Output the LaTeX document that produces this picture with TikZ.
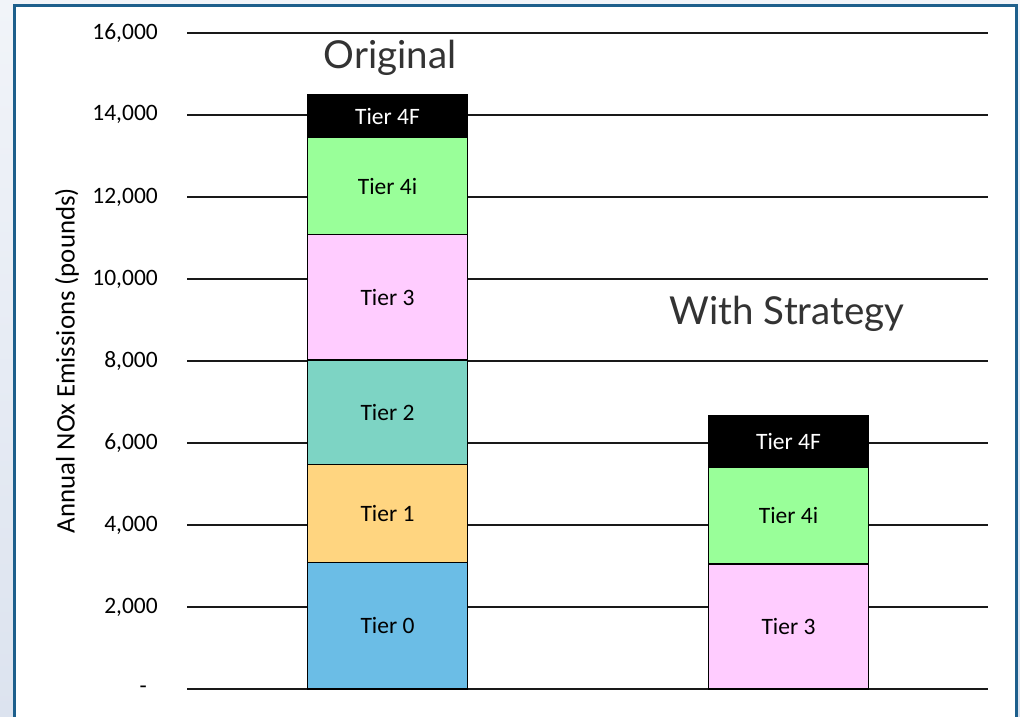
\documentclass[tikz,border=0pt]{standalone}
\usepackage{fontspec}
\setmainfont{Carlito}
\newfontfamily\titlefont{Lato}
\definecolor{frameblue}{HTML}{1D5F8C}
\definecolor{bgtop}{HTML}{F1F4F9}
\definecolor{bgbot}{HTML}{DCE3EF}
\definecolor{tzero}{HTML}{6BBDE6}
\definecolor{tone}{HTML}{FFD580}
\definecolor{ttwo}{HTML}{7DD4C4}
\definecolor{tthree}{HTML}{FFCCFF}
\definecolor{tfouri}{HTML}{99FF99}
\definecolor{titlegray}{HTML}{333333}
\tikzset{
  seg/.style={draw=black, line width=1.8pt, minimum width=160pt, inner sep=0pt, outer sep=0pt, anchor=south, font=\fontsize{23.5}{27}\selectfont},
  grid/.style={draw=black!90, line width=1.8pt},
  ticklbl/.style={anchor=east, inner sep=0pt, font=\fontsize{23.5}{27}\selectfont},
  ttl/.style={font=\titlefont\fontsize{38.5}{44}\selectfont, text=titlegray, inner sep=0pt}
}
\begin{document}
\begin{tikzpicture}[x=1pt,y=-1pt]
\useasboundingbox (0,0) rectangle (1020,717);
\shade[top color=bgtop, bottom color=bgbot] (0,0) rectangle (1020,717);
\fill[white] (14,6) rectangle (1016,740);
\draw[frameblue, line width=3pt] (14,740) -- (14,6) -- (1016,6) -- (1016,740);
% gridlines and tick labels
\foreach \k/\lbl in {0/{-\rule{11pt}{0pt}},1/{2,000},2/{4,000},3/{6,000},4/{8,000},5/{10,000},6/{12,000},7/{14,000},8/{16,000}}{
  \coordinate (gl\k) at (187,689.3-\k*82.07);
  \coordinate (gr\k) at (988,689.3-\k*82.07);
  \draw[grid] (gl\k) -- (gr\k);
  \node[ticklbl] (tl\k) at (158,689.3-\k*82.07) {\lbl};
}
% axis title
\node[rotate=90, inner sep=0pt, font=\fontsize{26.8}{30}\selectfont] (ytitle) at (67,360.5) {Annual NOx Emissions (pounds)};
% Original bar
\node[seg, fill=tzero, minimum height=126.8pt] (o0) at (387.5,689.3) {Tier 0};
\node[seg, fill=tone, minimum height=98pt] (o1) at (o0.north) {Tier 1};
\node[seg, fill=ttwo, minimum height=104.5pt] (o2) at (o1.north) {Tier 2};
\node[seg, fill=tthree, minimum height=125.5pt] (o3) at (o2.north) {Tier 3};
\node[seg, fill=tfouri, minimum height=97pt] (o4) at (o3.north) {Tier 4i};
\node[seg, fill=black, text=white, minimum height=43pt] (o5) at (o4.north) {Tier 4F};
% Strategy bar
\node[seg, fill=tthree, minimum height=125pt] (s3) at (788.5,689.3) {Tier 3};
\node[seg, fill=tfouri, minimum height=97pt] (s4) at (s3.north) {Tier 4i};
\node[seg, fill=black, text=white, minimum height=51.3pt] (s5) at (s4.north) {Tier 4F};
% titles
\node[ttl] (torig) at (390,58) {Original};
\node[ttl] (tstrat) at (787,314) {With Strategy};
\end{tikzpicture}
\end{document}
